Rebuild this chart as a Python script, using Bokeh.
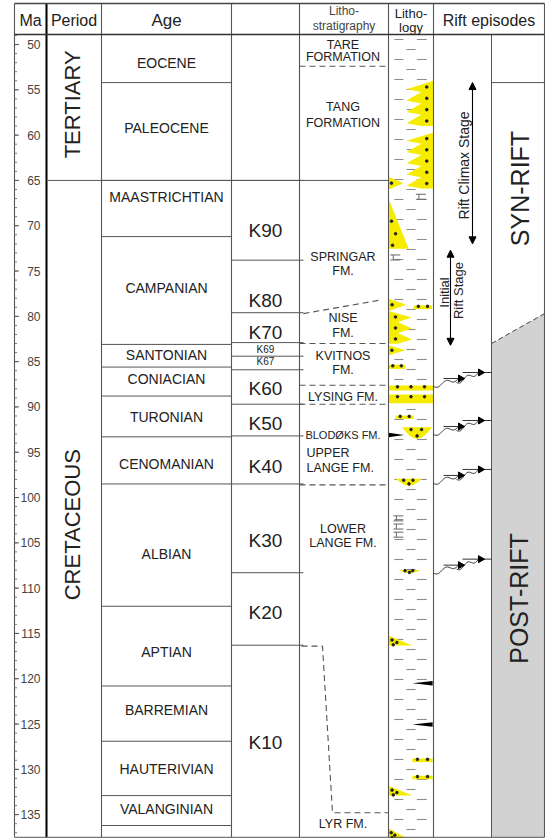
import numpy as np
from bokeh.plotting import figure
from bokeh.models import Range1d, Arrow, NormalHead
from bokeh.core.properties import value
from bokeh.embed import file_html
from bokeh.resources import INLINE

# ------------------------------------------------------------------ data
ma_ticks = [50, 55, 60, 65, 70, 75, 80, 85, 90, 95, 100, 105, 110, 115, 120, 125, 130, 135]
ma_minor = list(range(49, 138))

period_names = ["TERTIARY", "CRETACEOUS"]
period_base = [65.0, 137.5]
period_label_ma = [56.6, 103.0]

age_names = ["EOCENE", "PALEOCENE", "MAASTRICHTIAN", "CAMPANIAN", "SANTONIAN", "CONIACIAN",
             "TURONIAN", "CENOMANIAN", "ALBIAN", "APTIAN", "BARREMIAN", "HAUTERIVIAN", "VALANGINIAN"]
age_base = [54.2, 65.0, 71.2, 83.1, 85.6, 88.8, 93.3, 98.5, 112.0, 120.8, 126.9, 132.9, 136.2]
age_label_ma = [52.0, 59.2, 66.8, 76.9, 84.25, 86.9, 91.15, 96.3, 106.2, 117.05, 123.5, 130.0, 134.4]

k_names = ["K90", "K80", "K70", "K69", "K67", "K60", "K50", "K40", "K30", "K20", "K10"]
k_top = [65.0, 73.8, 79.6, 82.9, 84.4, 85.9, 89.7, 93.2, 98.5, 108.3, 116.3]
k_label_ma = [70.55, 78.3, 81.8, 83.65, 84.95, 88.0, 91.8, 96.6, 104.7, 112.7, 127.0]
k_minor_unit = [False, False, False, True, True, False, False, False, False, False, False]

ls_text = ["TARE", "FORMATION", "TANG", "FORMATION", "SPRINGAR", "FM.", "NISE", "FM.",
           "KVITNOS", "FM.", "LYSING FM.", "BLODØKS FM.", "UPPER", "LANGE FM.",
           "LOWER", "LANGE FM.", "LYR FM."]
ls_ma = [50.0, 51.4, 56.85, 58.7, 73.5, 74.95, 80.2, 81.8, 84.35, 85.9, 88.85, 93.1,
         95.05, 96.75, 103.45, 105.05, 136.0]
ls_left = [False] * 12 + [True, True] + [False] * 3
ls_small = [False] * 11 + [True] + [False] * 5
ls_dash_ma = [52.4, 83.0, 87.6, 89.7, 98.6]
springar_nise_ma = [79.7, 78.2]          # left, right
lyr_top_ma = [116.4, 134.8]              # step boundary Lange / Lyr

# lithology: sand bodies (kind, top, base, x-fraction from, x-fraction to, teeth)
sand_kind = ["saw_r", "saw_r", "tri_l", "wedge_l", "tri_l", "bar", "saw_l", "tri_l", "bar",
             "bar", "bar", "bar", "lens", "lens", "lens", "wedge_l", "bar", "bar", "wedge_l", "wedge_l"]
sand_top = [54.0, 59.7, 64.6, 67.0, 78.05, 78.8, 79.4, 83.2, 85.35,
            87.64, 88.63, 90.95, 92.24, 97.94, 108.0, 115.23, 128.8, 130.7, 131.8, 136.5]
sand_base = [59.0, 65.9, 66.0, 72.55, 79.4, 79.2, 83.04, 84.3, 85.8,
             88.19, 89.59, 91.32, 93.52, 98.68, 108.35, 116.33, 129.2, 131.1, 132.9, 137.6]
sand_f0 = [0.40, 0.40, 0.0, 0.0, 0.0, 0.56, 0.0, 0.0, 0.0,
           0.0, 0.0, 0.16, 0.30, 0.16, 0.22, 0.0, 0.53, 0.53, 0.0, 0.0]
sand_f1 = [1.0, 1.0, 0.33, 0.45, 0.40, 0.97, 0.52, 0.38, 0.38,
           1.0, 1.0, 0.56, 0.97, 0.75, 0.71, 0.53, 0.98, 0.98, 0.53, 0.40]
sand_teeth = [4, 5, 0, 0, 0, 0, 3, 0, 0, 0, 0, 0, 0, 0, 0, 0, 0, 0, 0, 0]

black_kind = ["tri_l", "tri_r", "tri_r"]
black_top = [92.85, 120.25, 124.8]
black_base = [93.35, 120.75, 125.3]
black_f0 = [0.0, 0.53, 0.53]
black_f1 = [0.35, 0.98, 0.98]

lime_ma = [66.8, 73.5, 102.3, 103.2, 104.1]
lime_f = [0.72, 0.15, 0.22, 0.22, 0.22]

rift_climax_ma = [54.2, 72.0]
rift_initial_ma = [72.7, 83.2]
synrift_top_ma = 54.2
postrift_top_ma = [83.0, 79.7]
rift_pulse_ma = [86.2, 91.5, 96.9, 106.8]

# ------------------------------------------------------------------ layout
W, H = 545, 838
PXM = 9.06                      # pixels per Ma
Y_TOP = 45.14                   # Ma at canvas top
Y_BOT = Y_TOP + H / PXM


def pm(ypx):
    return Y_TOP + ypx / PXM


HEAD_T, HEAD_B = pm(3), pm(34)
BOT = 137.5
X_MA, X_PER, X_AGE, X_K, X_LS, X_LG, X_RF, X_RM, X_R = 14, 46, 101, 231, 299, 388, 433, 491, 544
FONT = value("Liberation Sans")
LC = "#555555"
YEL = "#f6ec00"

p = figure(width=W, height=H, x_range=Range1d(0, W), y_range=Range1d(Y_BOT, Y_TOP),
           output_backend="svg", toolbar_location=None, min_border=0,
           x_axis_type=None, y_axis_type=None)
p.outline_line_color = None
p.background_fill_color = "white"
p.border_fill_color = "white"


def lx(f):
    return X_LG + f * (X_RF - X_LG)


def txt(x, y, t, size, align="center", angle=0.0, color="#222222"):
    p.text(x=x, y=y, text=t, text_font=FONT, text_font_size=size, text_align=align,
           text_baseline="middle", angle=angle, text_color=color)


# ---- post-rift shading
p.patch([X_RM, X_R, X_R, X_RM], [postrift_top_ma[0], postrift_top_ma[1], BOT, BOT],
        fill_color="#d2d2d2", line_color=None)
p.segment([X_RM], [postrift_top_ma[0]], [X_R], [postrift_top_ma[1]],
          line_color="#444444", line_width=1, line_dash="5 3")

# ---- shale dashes in lithology column
sx0, sy0, sx1, sy1 = [], [], [], []
rows = np.arange(pm(39), BOT, 10 / PXM)
for i, yy in enumerate(rows):
    segs = [(0.13, 0.33), (0.63, 0.85)] if i % 2 == 0 else [(0.40, 0.60)]
    for a, b in segs:
        sx0.append(lx(a)); sx1.append(lx(b)); sy0.append(yy); sy1.append(yy)
p.segment(sx0, sy0, sx1, sy1, line_color="#8c8c8c", line_width=1.1)


# ---- sand bodies
def body(kind, top, base, f0, f1, n):
    h = base - top
    mid = (top + base) / 2
    if kind == "bar":
        pts = [(f0, top), (f1, top), (f1, base), (f0, base)]
    elif kind == "lens":
        s = np.linspace(0, 1, 15)
        pts = [(f0, top)] + [(f1 - (f1 - f0) * v, top + h * np.sin(np.pi * v)) for v in s]
    elif kind == "wedge_l":
        pts = [(f0, top), (f0, base), (f1, base)]
    elif kind == "tri_l":
        pts = [(f0, top), (f0, base), (f1, mid)]
    elif kind == "tri_r":
        pts = [(f1, top), (f1, base), (f0, mid)]
    elif kind == "saw_r":
        t = h / n
        notch = f0 + (f1 - f0) * 0.55
        pts = [(f1, top)]
        for i in range(n):
            pts += [(f0, top + i * t + 0.75 * t), (notch, top + (i + 1) * t)]
        pts += [(f1, base)]
    else:  # saw_l
        t = h / n
        notch = f0 + (f1 - f0) * 0.4
        pts = [(f0, top)]
        for i in range(n):
            pts += [(f1, top + i * t + 0.6 * t), (notch, top + (i + 1) * t)]
        pts += [(f0, base)]
    return [lx(a) for a, _ in pts], [b for _, b in pts]


def dots(kind, top, base, f0, f1, n):
    h = base - top
    w = f1 - f0
    if kind == "bar":
        fr = [0.2, 0.5, 0.8] if w > 0.5 else [0.25, 0.75]
        return [lx(f0 + w * a) for a in fr], [top + h * 0.25] * len(fr)
    if kind == "lens":
        return [lx(f0 + w * 0.3), lx(f0 + w * 0.65), lx(f0 + w * 0.5)], [top + h * 0.2, top + h * 0.2, top + h * 0.75]
    if kind == "wedge_l":
        return [lx(f0 + w * 0.15), lx(f0 + w * 0.35), lx(f0 + w * 0.2)], [top + h * 0.45, top + h * 0.7, top + h * 0.93]
    if kind in ("saw_r", "saw_l"):
        t = h / n
        xf = f1 - w * 0.25 if kind == "saw_r" else f0 + w * 0.3
        return [lx(xf)] * n, [top + (i + 0.55) * t for i in range(n)]
    return [lx(f0 + w * 0.2)], [top + h * 0.5]


pxs, pys, dx, dy = [], [], [], []
for k, a, b, c, d, n in zip(sand_kind, sand_top, sand_base, sand_f0, sand_f1, sand_teeth):
    xs, ys = body(k, a, b, c, d, n)
    pxs.append(xs); pys.append(ys)
    ddx, ddy = dots(k, a, b, c, d, n)
    dx += ddx; dy += ddy
p.patches(pxs, pys, fill_color=YEL, line_color=None)
p.scatter(dx, dy, size=2.6, color="#222222")

bxs, bys = [], []
for k, a, b, c, d in zip(black_kind, black_top, black_base, black_f0, black_f1):
    xs, ys = body(k, a, b, c, d, 0)
    bxs.append(xs); bys.append(ys)
p.patches(bxs, bys, fill_color="black", line_color=None)

# limestone symbols
lx0, ly0, lx1, ly1 = [], [], [], []
for m, f in zip(lime_ma, lime_f):
    c = lx(f)
    for dyp in (-2.5, 2.5):
        lx0.append(c - 5); lx1.append(c + 5); ly0.append(m + dyp / PXM); ly1.append(m + dyp / PXM)
    lx0.append(c - 2); lx1.append(c - 2); ly0.append(m - 2.5 / PXM); ly1.append(m + 2.5 / PXM)
p.segment(lx0, ly0, lx1, ly1, line_color="#666666", line_width=1)

# ---- grid lines
vx = [X_MA, X_PER, X_AGE, X_K, X_LS, X_LG, X_RF, X_R]
p.segment(vx, [HEAD_T] * len(vx), vx, [BOT] * len(vx), line_color=LC, line_width=1.1)
p.segment([X_PER], [HEAD_T], [X_PER], [BOT], line_color="black", line_width=2)
p.segment([X_RM], [HEAD_B], [X_RM], [BOT], line_color=LC, line_width=1)
p.segment([X_MA], [HEAD_T], [X_R], [HEAD_T], line_color="#444444", line_width=1.3)
p.segment([X_MA], [HEAD_B], [X_R], [HEAD_B], line_color="#333333", line_width=1.6)
p.segment([X_MA], [BOT], [X_R], [BOT], line_color=LC, line_width=1)

# period boundary
p.segment([X_PER], [period_base[0]], [X_LG], [period_base[0]], line_color=LC, line_width=1)
# age boundaries
p.segment([X_AGE] * len(age_base), age_base, [X_K] * len(age_base), age_base, line_color=LC, line_width=1)
# K boundaries
p.segment([X_K] * len(k_top), k_top, [X_LS + 4] * len(k_top), k_top, line_color=LC, line_width=1)
# synrift box top
p.segment([X_RM], [synrift_top_ma], [X_R], [synrift_top_ma], line_color=LC, line_width=1)

# lithostratigraphic dashed boundaries
n = len(ls_dash_ma)
p.segment([X_LS] * n, ls_dash_ma, [X_LG] * n, ls_dash_ma, line_color="#555555", line_width=1.1, line_dash="6 4")
p.segment([X_LS + 4], [springar_nise_ma[0]], [X_LG - 8], [springar_nise_ma[1]],
          line_color="#555555", line_width=1.1, line_dash="6 4")
p.multi_line([[X_LS + 2, X_LS + 23, X_LS + 33, X_LG]],
             [[lyr_top_ma[0], lyr_top_ma[0], lyr_top_ma[1], lyr_top_ma[1]]],
             line_color="#555555", line_width=1.1, line_dash="6 4")

# ---- Ma axis
p.segment([X_MA] * len(ma_minor), ma_minor, [X_MA + 2.5] * len(ma_minor), ma_minor,
          line_color="#777777", line_width=1)
p.segment([X_MA] * len(ma_ticks), ma_ticks, [X_MA + 4.5] * len(ma_ticks), ma_ticks,
          line_color="#555555", line_width=1)
txt([40] * len(ma_ticks), ma_ticks, [str(t) for t in ma_ticks], "12px", align="right", color="#444444")

# ---- header
hy = pm(20)
txt([30], [hy], ["Ma"], "16px")
txt([(X_PER + X_AGE) / 2], [hy], ["Period"], "16px")
txt([(X_AGE + X_K) / 2], [hy], ["Age"], "17px")
txt([(X_LS + X_LG) / 2] * 2, [pm(10.5), pm(25.5)], ["Litho-", "stratigraphy"], "12px", color="#444444")
txt([(X_LG + X_RF) / 2] * 2, [pm(12.5), pm(26.5)], ["Litho-", "logy"], "13px")
txt([(X_RF + X_R) / 2], [hy], ["Rift episodes"], "16px")

# ---- periods / ages / K units / formations
txt([72] * 2, period_label_ma, period_names, "22px", angle=np.pi / 2)
txt([(X_AGE + X_K) / 2] * len(age_names), age_label_ma, age_names, "14px")
big = [i for i, s in enumerate(k_minor_unit) if not s]
sml = [i for i, s in enumerate(k_minor_unit) if s]
txt([(X_K + X_LS) / 2] * len(big), [k_label_ma[i] for i in big], [k_names[i] for i in big], "19px")
txt([(X_K + X_LS) / 2] * len(sml), [k_label_ma[i] for i in sml], [k_names[i] for i in sml], "10px")
for i, t in enumerate(ls_text):
    size = "11px" if ls_small[i] else "12.5px"
    if ls_left[i]:
        txt([X_LS + 7], [ls_ma[i]], [t], size, align="left")
    else:
        txt([(X_LS + X_LG) / 2 - 1], [ls_ma[i]], [t], size)

# ---- rift episodes
txt([519], [pm(188)], ["SYN-RIFT"], "25px", angle=np.pi / 2)
txt([518], [pm(598)], ["POST-RIFT"], "25px", angle=np.pi / 2)
txt([463.5], [pm(165)], ["Rift Climax Stage"], "14px", angle=np.pi / 2)
txt([444], [pm(292)], ["Initial"], "13px", angle=np.pi / 2)
txt([458], [pm(290)], ["Rift Stage"], "13px", angle=np.pi / 2)
for (a, b), xx in ((rift_climax_ma, 472), (rift_initial_ma, 450)):
    p.add_layout(Arrow(start=NormalHead(size=7, fill_color="black", line_color="black"),
                       end=NormalHead(size=7, fill_color="black", line_color="black"),
                       x_start=xx, y_start=b, x_end=xx, y_end=a, line_width=1.1))

wxs, wys, hx0, hy0, hx1, ax, ay = [], [], [], [], [], [], []
tt = np.linspace(0, 1, 30)
for m in rift_pulse_ma:
    for (xa, ya, xb, yb, l0, l1) in ((456, 10, 478, 0, 462, X_RM), (433, 14, 458, 6, 443, 463)):
        xw = xa + (xb - xa) * tt
        yw = ya + (yb - ya) * tt + 2.0 * np.sin(3 * np.pi * tt)
        wxs.append(list(xw)); wys.append(list(m + yw / PXM))
        hx0.append(l0); hx1.append(l1); hy0.append(m + yb / PXM)
        ax.append(xb + 2); ay.append(m + yb / PXM)
p.multi_line(wxs, wys, line_color="#333333", line_width=1)
p.segment(hx0, hy0, hx1, hy0, line_color="#333333", line_width=1)
p.scatter(ax, ay, marker="triangle", size=7, angle=-np.pi / 2, color="black")

open("out.html", "w").write(file_html(p, INLINE))
